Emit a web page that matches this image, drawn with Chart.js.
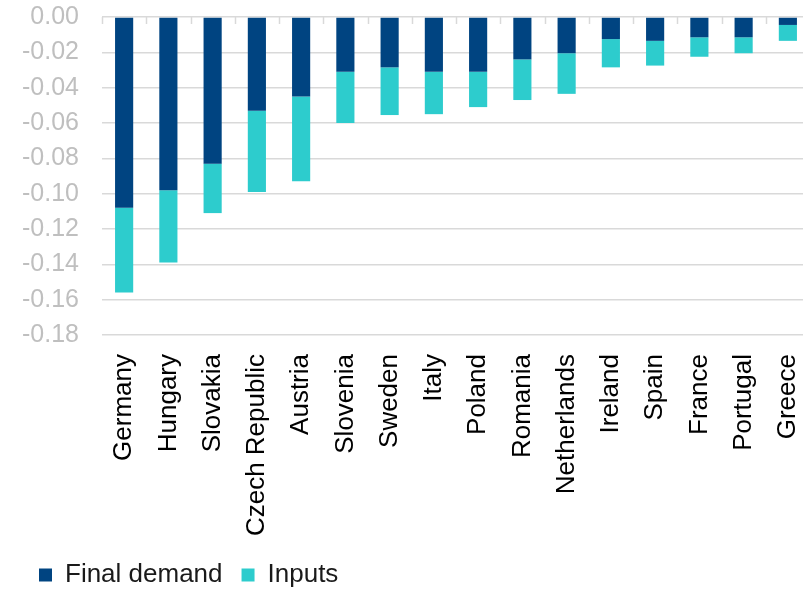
<!DOCTYPE html>
<html>
<head>
<meta charset="utf-8">
<script src="https://cdn.jsdelivr.net/npm/chart.js@4"></script>
<style>
  html, body { margin: 0; padding: 0; overflow: hidden; background: #fff; }
  #wrap { width: 810px; height: 598px; }
</style>
</head>
<body>
<div id="wrap"><canvas id="chart"></canvas></div>
<script>
const countries = ['Germany', 'Hungary', 'Slovakia', 'Czech Republic', 'Austria', 'Slovenia', 'Sweden', 'Italy',
  'Poland', 'Romania', 'Netherlands', 'Ireland', 'Spain', 'France', 'Portugal', 'Greece'];
const finalDemand = [-0.108, -0.098, -0.083, -0.053, -0.045, -0.031, -0.0285, -0.031,
  -0.031, -0.024, -0.0205, -0.0125, -0.0135, -0.0115, -0.0115, -0.0045];
const inputs = [-0.048, -0.041, -0.028, -0.046, -0.048, -0.029, -0.027, -0.024,
  -0.020, -0.023, -0.023, -0.016, -0.014, -0.011, -0.009, -0.009];
const yTicks = [0, -0.02, -0.04, -0.06, -0.08, -0.10, -0.12, -0.14, -0.16, -0.18];

// small tick marks hanging from the zero line, between categories
const topTicks = {
  id: 'topTicks',
  afterDraw(chart) {
    const x = chart.scales.x, y = chart.scales.y;
    const ctx = chart.ctx;
    const y0 = y.getPixelForValue(0);
    ctx.save();
    ctx.strokeStyle = '#d9d9d9';
    ctx.lineWidth = 1.5;
    for (let i = 0; i <= countries.length; i++) {
      const px = Math.round(x.getPixelForValue(i - 0.5)) + 0.5;
      ctx.beginPath();
      ctx.moveTo(px, y0);
      ctx.lineTo(px, y0 + 7);
      ctx.stroke();
    }
    ctx.restore();
  }
};

new Chart(document.getElementById('chart'), {
  type: 'bar',
  data: {
    labels: countries,
    datasets: [
      { label: 'Final demand', data: finalDemand, backgroundColor: '#004481', stack: 's' },
      { label: 'Inputs', data: inputs, backgroundColor: '#2dcccd', stack: 's' }
    ]
  },
  options: {
    responsive: true,
    maintainAspectRatio: false,
    animation: false,
    layout: { padding: { top: 17, left: 20, right: 0, bottom: 0 } },
    datasets: { bar: { categoryPercentage: 1, barPercentage: 0.41 } },
    scales: {
      x: {
        stacked: true,
        grid: { display: false },
        border: { display: false },
        ticks: {
          minRotation: 90, maxRotation: 90, padding: 11, autoSkip: false,
          color: '#000', font: { family: 'Liberation Sans, Arial', size: 26 }
        },
        afterFit(scale) {
          scale.height = 208;
          scale.paddingLeft = 0;
          scale.paddingRight = 0;
        }
      },
      y: {
        stacked: true,
        min: -0.18, max: 0,
        afterBuildTicks(scale) { scale.ticks = yTicks.map(v => ({ value: v })); },
        grid: { color: '#d9d9d9', lineWidth: 1.5, drawTicks: false },
        border: { display: false },
        ticks: {
          padding: 23, color: '#bfbfbf',
          font: { family: 'Liberation Sans, Arial', size: 25 },
          callback: v => v.toFixed(2)
        },
        afterFit(scale) {
          scale.width = 82;
          scale.paddingTop = 0;
          scale.paddingBottom = 0;
        }
      }
    },
    plugins: {
      legend: {
        position: 'bottom', align: 'start',
        labels: {
          boxWidth: 13, boxHeight: 13, padding: 19, color: '#1a1a1a',
          font: { family: 'Liberation Sans, Arial', size: 26 }
        }
      },
      tooltip: { enabled: false }
    }
  },
  plugins: [topTicks]
});
</script>
</body>
</html>
